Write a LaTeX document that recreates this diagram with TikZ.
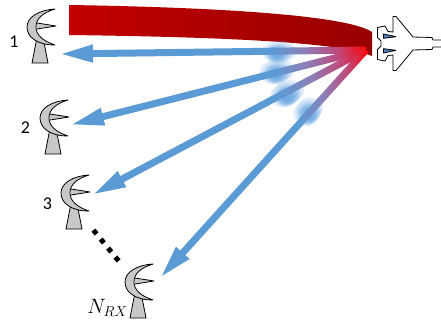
\documentclass[tikz,border=0pt]{standalone}
\usepackage{fontspec}
\setmainfont{Carlito}
\usetikzlibrary{arrows.meta,calc,fadings}

\definecolor{beamblue}{HTML}{5B9BD5}
\definecolor{beamred}{HTML}{FF0000}
\definecolor{beammidA}{HTML}{8A80B8}
\definecolor{beammidB}{HTML}{C0487A}
\definecolor{bandleft}{HTML}{C20000}
\definecolor{bandright}{HTML}{990000}
\definecolor{dishgray}{HTML}{C8C8C8}
\definecolor{intake}{HTML}{4F81BD}
\definecolor{halo}{HTML}{6FAAE2}

% blue-to-red fade along an echo
\pgfdeclarehorizontalshading{echofade}{100bp}{
  color(0bp)=(beamblue); color(25bp)=(beamblue);
  color(42bp)=(beammidA); color(60bp)=(beammidB);
  color(75bp)=(beamred); color(100bp)=(beamred)}

% soft blob: opaque centre, transparent rim
\tikzfading[name=softblob, inner color=transparent!0, outer color=transparent!100]

\begin{document}
\begin{tikzpicture}[x=1pt,y=-1pt,
  outline/.style={draw=black, line width=0.8pt, line join=round},
  beam/.style={draw=beamblue, line width=7pt, -{Triangle[length=34pt,width=16pt]}},
  beamfade/.style={shading=echofade},
  glow/.style={fill=halo, path fading=softblob},
  numlabel/.style={font=\fontsize{18}{18}\selectfont, inner sep=0pt},
  pics/dish/.style={code={
    % stand
    \draw[outline, fill=dishgray] (9.5,13) -- (16.5,13) -- (21,36) -- (5,36) -- cycle;
    % reflector
    \draw[outline, fill=dishgray] (28,-18) .. controls (12,-17) and (0,-10) .. (0,0)
      .. controls (0,10) and (10,18) .. (28,18)
      .. controls (16,14) and (9,8) .. (9,0)
      .. controls (9,-8) and (15,-14) .. (28,-18) -- cycle;
    % feed
    \draw[outline, fill=dishgray] (10,-4) -- (29,-1) -- (10,2);
  }}
]
\useasboundingbox (0,0) rectangle (441,327);
\clip (0,0) rectangle (441,327);

% transmitted beam
\shade[left color=bandleft, right color=bandright]
  (69,5) .. controls (200,7) and (345,14) .. (372,32) -- (372,56)
  .. controls (340,42) and (220,37) .. (69,35) -- cycle;

\coordinate (src) at (366,50);
\coordinate (tip1) at (59,54);
\coordinate (tip2) at (70,125);
\coordinate (tip3) at (92,195);
\coordinate (tip4) at (160,278);

% soft halos where the echoes turn blue
\foreach \cx/\cy/\ang in {279/51/1, 277/71/14, 287/93/28, 308/111/48} {
  \fill[glow, rotate around={\ang:(\cx,\cy)}] (\cx,\cy) ellipse (19pt and 12pt);
  \fill[glow, rotate around={\ang:(\cx,\cy)}] (\cx-2,\cy+3) ellipse (14pt and 10pt);
  \fill[glow, rotate around={\ang:(\cx,\cy)}] (\cx-3,\cy+4) ellipse (9pt and 7pt);
}

% echoes towards the receivers
\foreach \i in {1,...,4} {
  \coordinate (mid\i) at ($(src)!0.3!(tip\i)$);
  \coordinate (ov\i) at ($(src)!0.31!(tip\i)$);
  \draw[beam] (mid\i) -- (tip\i);
  \shade[beamfade] ($(ov\i)!3.5pt!90:(src)$) -- ($(ov\i)!3.5pt!-90:(src)$)
    -- ($(src)!3.5pt!90:(ov\i)$) -- ($(src)!3.5pt!-90:(ov\i)$) -- cycle;
}

% receivers
\pic (rx1) at (27,27) {dish};
\pic (rx2) at (40,118) {dish};
\pic (rx3) at (61,193) {dish};
\pic (rxN) at (125,282) {dish};

\node[numlabel] (lab1) at (14,42) {1};
\node[numlabel] (lab2) at (25.5,127.5) {2};
\node[numlabel] (lab3) at (47.5,204) {3};
\node[font=\fontsize{20}{20}\selectfont, inner sep=0pt] (labN) at (107.5,308) {$N_{RX}$};

% ellipsis between receiver 3 and the last one
\draw[line width=5pt, dash pattern=on 5pt off 6.6pt] (93.4,230.1) -- (118.6,260.9);

% aircraft
\draw[outline, fill=white] (443,40) -- (433,40) -- (432,37.5) -- (413,37) -- (396,16.5)
  -- (393,16.5) -- (393,32) -- (388,31.5) -- (385,26) -- (377.5,27.5) -- (377.5,37.5)
  -- (381,41) -- (381,46) -- (377.5,49.5) -- (377.5,59.5) -- (385,61) -- (388,55.5)
  -- (393,55) -- (393,70.5) -- (396,70.5) -- (413,50) -- (432,49.5) -- (433,47)
  -- (443,47) -- cycle;
\draw[outline, fill=intake] (383.5,34) -- (396,36.7) -- (383.5,38.3) -- cycle;
\draw[outline, fill=intake] (383.5,53) -- (396,50.3) -- (383.5,48.7) -- cycle;
\end{tikzpicture}
\end{document}
